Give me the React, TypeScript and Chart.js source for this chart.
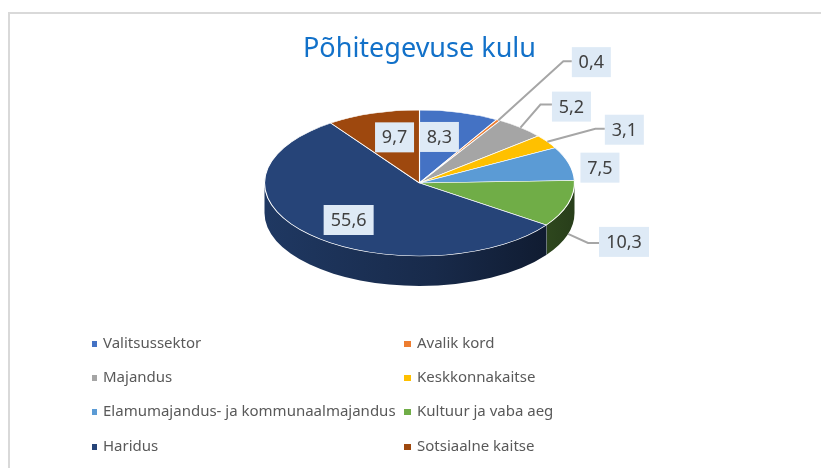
import React, { useEffect, useRef } from "react";
import { Chart, registerables } from "chart.js";

Chart.register(...registerables);

const categories = [
  "Valitsussektor",
  "Avalik kord",
  "Majandus",
  "Keskkonnakaitse",
  "Elamumajandus- ja kommunaalmajandus",
  "Kultuur ja vaba aeg",
  "Haridus",
  "Sotsiaalne kaitse",
];
const values = [8.3, 0.4, 5.2, 3.1, 7.5, 10.3, 55.6, 9.7];
const valueLabels = ["8,3", "0,4", "5,2", "3,1", "7,5", "10,3", "55,6", "9,7"];
const colors = ["#4472c4", "#ed7d31", "#a5a5a5", "#ffc000", "#5b9bd5", "#70ad47", "#264478", "#9e480e"];

const CX = 419.5, CY = 183, RX = 155, RY = 73, DEPTH = 30;
const FONT = '"Noto Sans", sans-serif';

// label box centre, relative to the slice's point on the rim
const labelOffset: [number, number][] = [
  [-20, 24.5], [93, -58], [51, -21], [77, -12], [31, 4], [56, 8], [39, -44.5], [21.5, 24],
];
// leader elbow relative to the same rim point; null = no leader
const leaderElbow: ([number, number] | null)[] = [
  null, [65, -59], [20, -23], [48, -13], null, [20, 9], null, null,
];

function shade(hex: string, k: number) {
  const n = parseInt(hex.slice(1), 16);
  const c = [(n >> 16) & 255, (n >> 8) & 255, n & 255].map((v) => Math.round(v * k));
  return `rgb(${c[0]},${c[1]},${c[2]})`;
}

const pie3d = {
  id: "pie3d",
  beforeDatasetsDraw(chart: any) {
    const ctx = chart.ctx;
    const arcs = chart.getDatasetMeta(0).data;
    ctx.save();
    arcs.forEach((arc: any, i: number) => {
      const a0 = Math.max(arc.startAngle, 0);
      const a1 = Math.min(arc.endAngle, Math.PI);
      if (a1 <= a0) return;
      const g = ctx.createLinearGradient(CX - RX, 0, CX + RX, 0);
      g.addColorStop(0, shade(colors[i], 0.82));
      g.addColorStop(0.55, shade(colors[i], 0.62));
      g.addColorStop(1, shade(colors[i], 0.36));
      ctx.beginPath();
      ctx.ellipse(CX, CY, RX, RY, 0, a0, a1);
      ctx.ellipse(CX, CY + DEPTH, RX, RY, 0, a1, a0, true);
      ctx.closePath();
      ctx.fillStyle = g;
      ctx.fill();
      if (i === 5) {
        ctx.beginPath();
        ctx.moveTo(CX + RX * Math.cos(a1), CY + RY * Math.sin(a1));
        ctx.lineTo(CX + RX * Math.cos(a1), CY + RY * Math.sin(a1) + DEPTH);
        ctx.strokeStyle = "#9aa3ad";
        ctx.lineWidth = 1;
        ctx.stroke();
      }
    });
    ctx.restore();
    const first = arcs[0];
    ctx.save();
    ctx.translate(CX, CY);
    ctx.scale(RX / first.outerRadius, RY / first.outerRadius);
    ctx.translate(-first.x, -first.y);
  },
  afterDatasetsDraw(chart: any) {
    const ctx = chart.ctx;
    ctx.restore();
    const arcs = chart.getDatasetMeta(0).data;
    ctx.save();
    ctx.font = `18px ${FONT}`;
    ctx.textAlign = "center";
    ctx.textBaseline = "middle";
    arcs.forEach((arc: any, i: number) => {
      const mid = (arc.startAngle + arc.endAngle) / 2;
      const px = CX + RX * Math.cos(mid);
      const py = CY + RY * Math.sin(mid) + (Math.sin(mid) > 0 ? DEPTH : 0);
      const bx = px + labelOffset[i][0];
      const by = py + labelOffset[i][1];
      const w = valueLabels[i].length > 3 ? 50 : 39;
      const elbow = leaderElbow[i];
      if (elbow) {
        ctx.beginPath();
        ctx.moveTo(px, py);
        ctx.lineTo(px + elbow[0], py + elbow[1]);
        ctx.lineTo(bx - w / 2, py + elbow[1]);
        ctx.strokeStyle = "#a6a6a6";
        ctx.lineWidth = 2;
        ctx.stroke();
      }
      ctx.fillStyle = "#deeaf6";
      ctx.fillRect(bx - w / 2, by - 15, w, 30);
      ctx.fillStyle = "#404040";
      ctx.fillText(valueLabels[i], bx, by + 1);
    });
    ctx.restore();
  },
};

const sideLegend = {
  id: "sideLegend",
  afterDraw(chart: any) {
    const ctx = chart.ctx;
    ctx.save();
    ctx.font = `15px ${FONT}`;
    ctx.textBaseline = "middle";
    ctx.textAlign = "left";
    const rowY = [344, 378, 412, 447];
    const colX = [92, 404];
    chart.data.labels.forEach((label: string, i: number) => {
      const x = colX[i % 2];
      const y = rowY[Math.floor(i / 2)];
      ctx.fillStyle = colors[i];
      ctx.fillRect(x, y - 3, i % 2 ? 7 : 5, 6);
      ctx.fillStyle = "#595959";
      ctx.fillText(label, i % 2 ? 417 : 103, y);
    });
    ctx.restore();
  },
};

export default function App() {
  const ref = useRef<HTMLCanvasElement>(null);
  useEffect(() => {
    const chart = new Chart(ref.current!, {
      type: "pie",
      data: {
        labels: categories,
        datasets: [
          {
            data: values,
            backgroundColor: colors,
            borderColor: "#ffffff",
            borderWidth: 1,
            clip: false,
          } as any,
        ],
      },
      options: {
        responsive: false,
        animation: false,
        layout: { padding: { top: 33, left: 18, right: 0, bottom: 120 } },
        plugins: {
          legend: { display: false },
          tooltip: { enabled: false },
          title: {
            display: true,
            text: "Põhitegevuse kulu",
            color: "#1271c9",
            font: { family: "Noto Sans", size: 27, weight: "normal" },
            padding: 0,
          },
        },
      },
      plugins: [pie3d, sideLegend],
    });
    return () => chart.destroy();
  }, []);
  return (
    <div style={{ position: "absolute", left: 0, top: 0, width: 821, height: 468, overflow: "hidden", background: "#fff" }}>
      <div style={{ position: "absolute", left: 8, top: 12, width: 813, height: 456, borderLeft: "2px solid #d9d9d9", borderTop: "2px solid #d9d9d9", boxSizing: "border-box" }} />
      <canvas ref={ref} width={821} height={468} style={{ position: "absolute", left: 0, top: 0 }} />
    </div>
  );
}
